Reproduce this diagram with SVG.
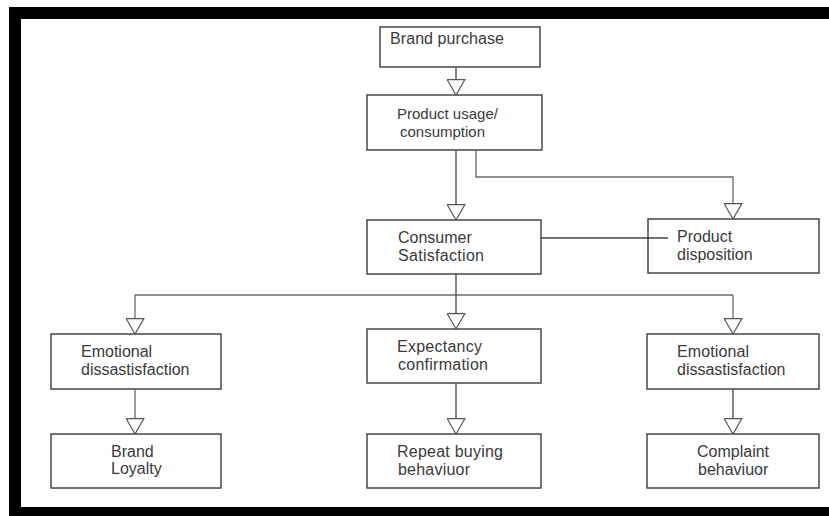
<svg xmlns="http://www.w3.org/2000/svg" width="829" height="516" viewBox="0 0 829 516">
<style>
.box{fill:#fff;stroke:#3a3a3a;stroke-width:1.4}
.t{font-family:"Liberation Sans",Arial,sans-serif;font-size:16px;fill:#3a3a3a}
.s{font-size:15px}
.c{fill:none;stroke:#444;stroke-width:1.3}
.cl{fill:none;stroke:#6a6a6a;stroke-width:1.3}
</style>
<defs>
<marker id="tri" viewBox="0 0 17 19" refX="16" refY="9.5" markerWidth="17" markerHeight="19" markerUnits="userSpaceOnUse" orient="auto">
<polygon points="0.7,0.7 16,9.5 0.7,18.3" fill="#fff" stroke="#555" stroke-width="1.2"/>
</marker>
</defs>
<rect width="829" height="516" fill="#fff"/>
<g id="frame" fill="#000">
<rect x="9" y="7" width="820" height="12"/>
<rect x="9" y="7" width="12" height="509"/>
<rect x="9" y="507" width="820" height="9"/>
</g>
<g id="brand-purchase">
<rect class="box" x="380" y="27" width="160" height="40"/>
<text class="t" x="390" y="44" textLength="114">Brand purchase</text>
</g>
<g id="product-usage">
<rect class="box" x="367" y="95" width="175" height="55"/>
<text class="t s" x="397" y="119">Product usage/</text>
<text class="t s" x="400" y="137">consumption</text>
</g>
<g id="consumer-satisfaction">
<rect class="box" x="367" y="220" width="174" height="54"/>
<text class="t" x="398" y="243">Consumer</text>
<text class="t" x="398" y="261" textLength="86">Satisfaction</text>
</g>
<g id="product-disposition">
<rect class="box" x="648" y="219" width="171" height="54"/>
<text class="t" x="677" y="242">Product</text>
<text class="t" x="677" y="260">disposition</text>
</g>
<g id="emotional-left">
<rect class="box" x="51" y="334" width="170" height="55"/>
<text class="t" x="81" y="357">Emotional</text>
<text class="t" x="81" y="375">dissastisfaction</text>
</g>
<g id="expectancy">
<rect class="box" x="367" y="329" width="174" height="54"/>
<text class="t" x="397" y="352" textLength="85">Expectancy</text>
<text class="t" x="398" y="370" textLength="90">confirmation</text>
</g>
<g id="emotional-right">
<rect class="box" x="647" y="334" width="172" height="55"/>
<text class="t" x="677" y="357" textLength="72">Emotional</text>
<text class="t" x="677" y="375">dissastisfaction</text>
</g>
<g id="brand-loyalty">
<rect class="box" x="51" y="434" width="170" height="54"/>
<text class="t" x="111" y="457">Brand</text>
<text class="t" x="111" y="474">Loyalty</text>
</g>
<g id="repeat-buying">
<rect class="box" x="367" y="434" width="174" height="54"/>
<text class="t" x="397" y="457" textLength="106">Repeat buying</text>
<text class="t" x="398" y="475" textLength="72">behaviuor</text>
</g>
<g id="complaint">
<rect class="box" x="647" y="434" width="172" height="54"/>
<text class="t" x="697" y="457">Complaint</text>
<text class="t" x="698" y="475">behaviuor</text>
</g>
<g id="connectors">
<path class="c" d="M456 67V95" marker-end="url(#tri)"/>
<path class="c" d="M456 150V220" marker-end="url(#tri)"/>
<path class="cl" d="M476 150V177H733V219" marker-end="url(#tri)"/>
<path class="c" d="M541 238H668"/>
<path class="c" d="M456 274V295"/>
<path class="cl" d="M135 295H733"/>
<path class="cl" d="M135 295V334" marker-end="url(#tri)"/>
<path class="c" d="M456 295V329" marker-end="url(#tri)"/>
<path class="cl" d="M733 295V334" marker-end="url(#tri)"/>
<path class="cl" d="M135 389V434" marker-end="url(#tri)"/>
<path class="c" d="M456 383V434" marker-end="url(#tri)"/>
<path class="c" d="M733 389V434" marker-end="url(#tri)"/>
</g>
</svg>
